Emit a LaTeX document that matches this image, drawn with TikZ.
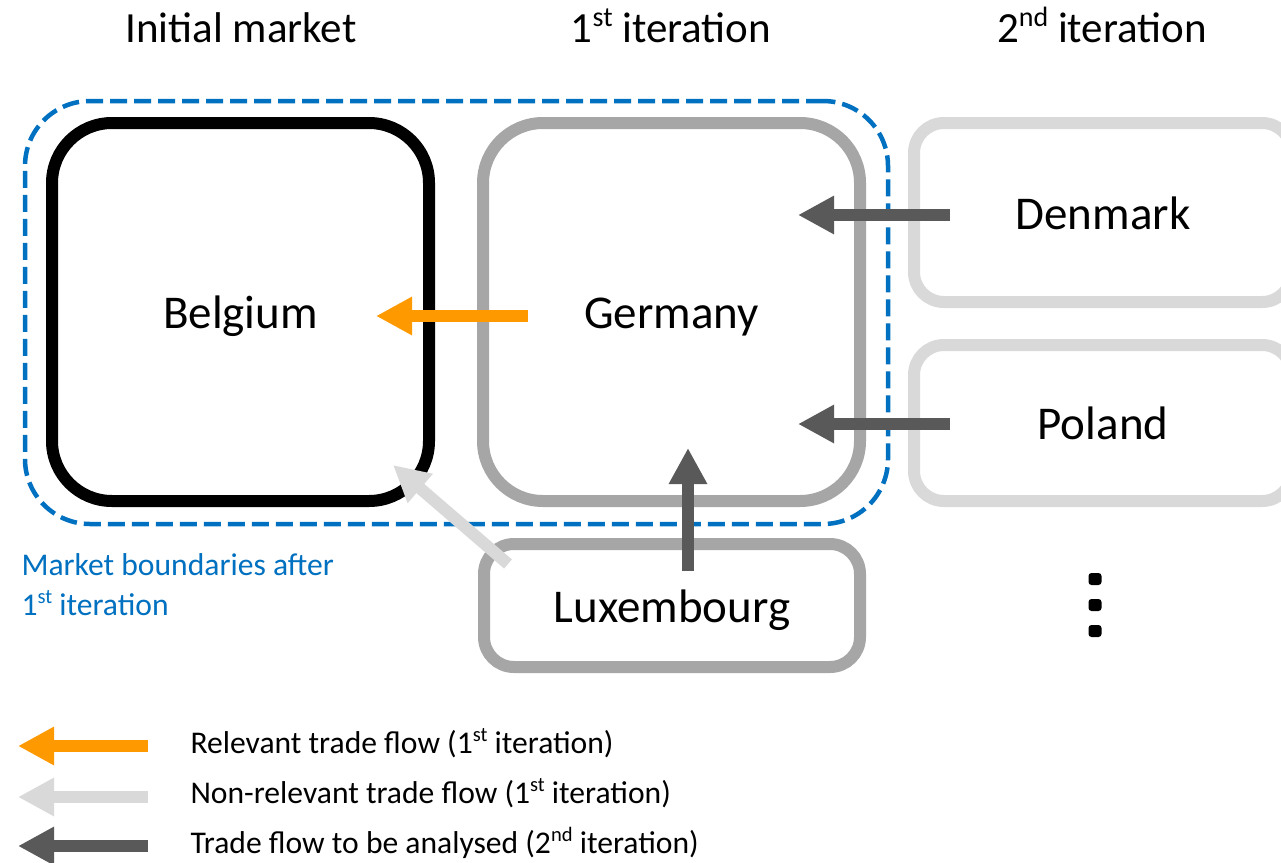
\documentclass[tikz,border=0pt]{standalone}
\usepackage{fontspec}
\setmainfont{Carlito}
\usetikzlibrary{arrows.meta}
\definecolor{orangeA}{HTML}{FF9900}
\definecolor{lgray}{HTML}{D9D9D9}
\definecolor{mgray}{HTML}{A6A6A6}
\definecolor{dgray}{HTML}{595959}
\definecolor{mblue}{HTML}{0070C0}
\newcommand\sups[1]{\raisebox{0.36em}{\scalebox{0.65}{#1}}}
\begin{document}
\begin{tikzpicture}[x=1pt,y=-1pt,
  country/.style={draw, line width=12pt, inner sep=0pt, text height=33pt, text depth=0pt,
    font=\fontsize{47}{56}\selectfont},
  bigbox/.style={country, minimum width=377pt, minimum height=378pt, rounded corners=60pt},
  smallbox/.style={country, rounded corners=30pt},
  title/.style={anchor=base, font=\fontsize{43}{52}\selectfont},
  legtext/.style={anchor=base west, font=\fontsize{31.6}{38}\selectfont},
  blockarrow/.style={line width=12pt, -{Triangle[length=36pt,width=36pt]}},
  dotmark/.style={fill=black, minimum width=13pt, minimum height=12pt, rounded corners=3pt, inner sep=0pt},
]
\clip (0,0) rectangle (1281,862);
\fill[white] (0,0) rectangle (1281,862);

% titles
\node[title] (t0) at (241,42) {Initial market};
\node[title] (t1) at (671,42) {1\sups{st} iteration};
\node[title] (t2) at (1102,42) {2\sups{nd} iteration};

% boxes
\node[bigbox, draw=black] (Belgium) at (240.5,312) {Belgium};
\node[bigbox, draw=mgray] (Germany) at (671.5,312) {Germany};
\node[smallbox, draw=lgray, minimum width=378pt, minimum height=179pt] (Denmark) at (1103,212.5) {Denmark};
\node[smallbox, draw=lgray, minimum width=378pt, minimum height=156pt] (Poland) at (1103,423) {Poland};
\node[smallbox, draw=mgray, minimum width=376pt, minimum height=123pt] (Luxembourg) at (672,605.5) {Luxembourg};

% market boundary
\node[draw=mblue, line width=4.5pt, dash pattern=on 17pt off 7pt, rounded corners=65pt,
  minimum width=863pt, minimum height=423pt, inner sep=0pt] (boundary) at (456.5,312.5) {};
\node[legtext, text=mblue] (bl1) at (18,575) {Market boundaries after};
\node[legtext, text=mblue] (bl2) at (18,615) {1\sups{st} iteration};

% arrow end points
\coordinate (oTail) at (528,316);
\coordinate (oTip) at (376,316);
\coordinate (lTail) at (508,564);
\coordinate (lTip) at (393,465);
\coordinate (dTail) at (950,215);
\coordinate (dTip) at (798,215);
\coordinate (pTail) at (950,424);
\coordinate (pTip) at (798,424);
\coordinate (xTail) at (688,571);
\coordinate (xTip) at (688,448);

\draw[blockarrow, orangeA] (oTail) -- (oTip);
\draw[blockarrow, lgray] (lTail) -- (lTip);
\draw[blockarrow, dgray] (dTail) -- (dTip);
\draw[blockarrow, dgray] (pTail) -- (pTip);
\draw[blockarrow, dgray] (xTail) -- (xTip);

% dots
\node[dotmark] (d1) at (1095,579) {};
\node[dotmark] (d2) at (1095,605) {};
\node[dotmark] (d3) at (1095,631) {};

% legend
\coordinate (g1Tail) at (148,746);
\coordinate (g1Tip) at (18,746);
\coordinate (g2Tail) at (148,797);
\coordinate (g2Tip) at (18,797);
\coordinate (g3Tail) at (148,846);
\coordinate (g3Tip) at (18,846);
\draw[blockarrow, orangeA] (g1Tail) -- (g1Tip);
\draw[blockarrow, lgray] (g2Tail) -- (g2Tip);
\draw[blockarrow, dgray] (g3Tail) -- (g3Tip);
\node[legtext] (l1) at (187,753) {Relevant trade flow (1\sups{st} iteration)};
\node[legtext] (l2) at (187,803) {Non-relevant trade flow (1\sups{st} iteration)};
\node[legtext] (l3) at (187,853) {Trade flow to be analysed (2\sups{nd} iteration)};
\end{tikzpicture}
\end{document}
